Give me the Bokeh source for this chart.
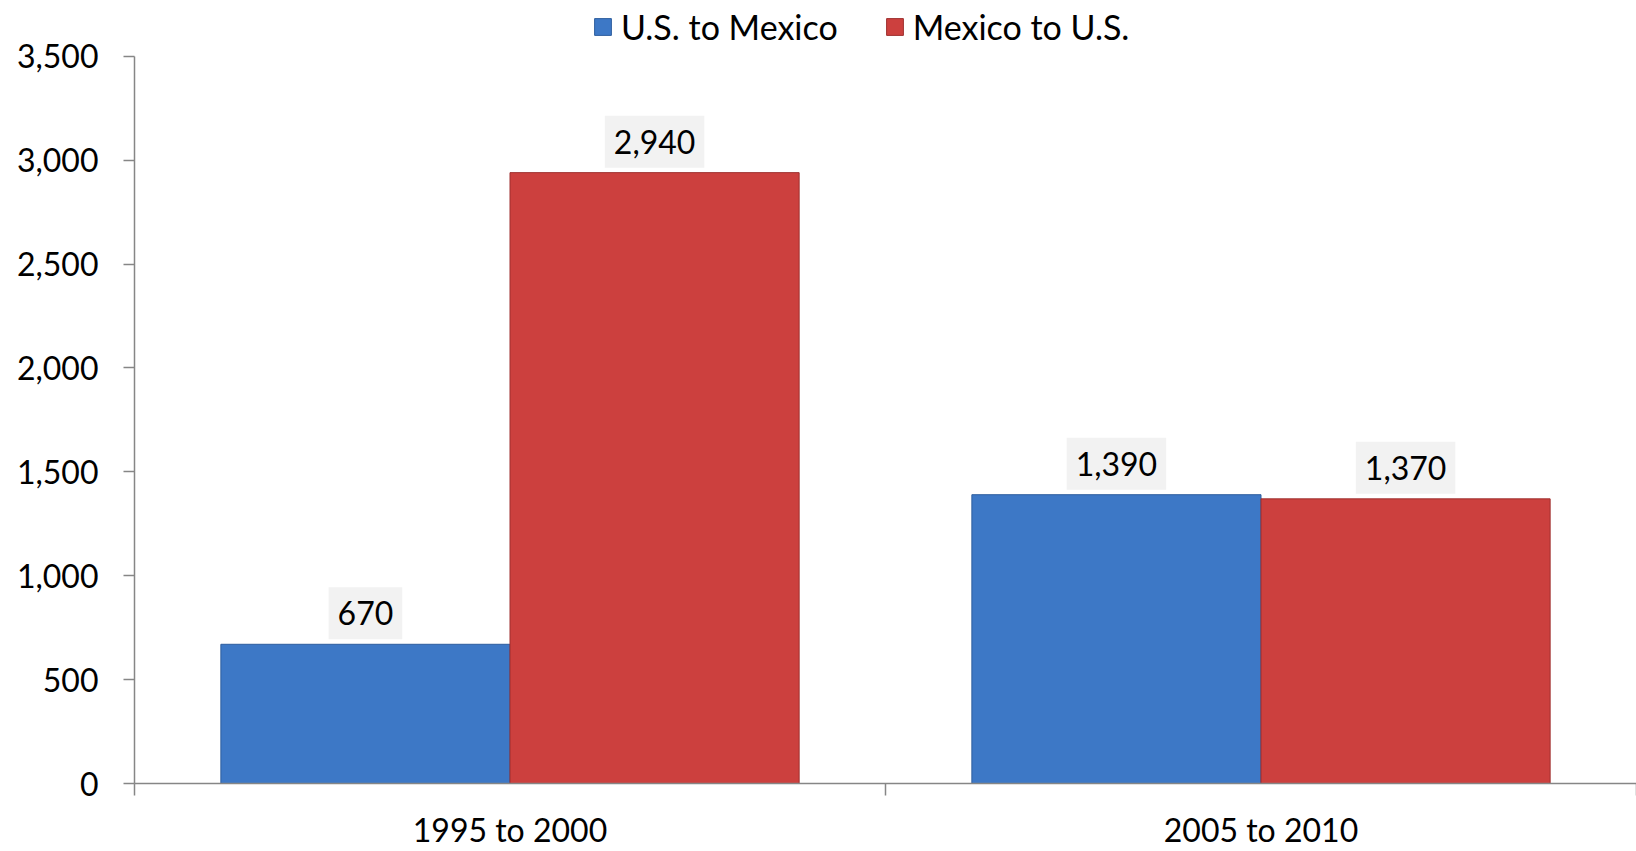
from bokeh.plotting import figure
from bokeh.models import (ColumnDataSource, Range1d, LinearAxis, FixedTicker, SingleIntervalTicker,
                          NumeralTickFormatter, Legend, LegendItem, LabelSet)
from bokeh.core.properties import value
from bokeh.transform import dodge
from bokeh.embed import file_html
from bokeh.resources import INLINE

categories = ["1995 to 2000", "2005 to 2010"]
series_names = ["U.S. to Mexico", "Mexico to U.S."]
us_to_mexico = [670, 1390]
mexico_to_us = [2940, 1370]
value_labels_us = ["670", "1,390"]
value_labels_mx = ["2,940", "1,370"]
y_max = 3500

FONT = "Lato"
blue = "#3D78C6"
red = "#CC403E"

xpos = [i + 0.5 for i in range(len(categories))]
src = ColumnDataSource(dict(x=xpos, us=us_to_mexico, mx=mexico_to_us,
                            lus=value_labels_us, lmx=value_labels_mx))

W, H = 1636, 851
MB_L, MB_R, MB_T, MB_B = 134, 0, 0, 65
TOP_GAP = 56  # space above the value axis for the legend
frame_h = H - MB_T - MB_B
y_end = y_max * frame_h / (frame_h - TOP_GAP)

p = figure(width=W, height=H, output_backend="svg", toolbar_location=None,
           x_range=Range1d(0, len(categories)), y_range=Range1d(0, y_end),
           x_axis_type=None, y_axis_type=None,
           min_border_left=MB_L, min_border_right=MB_R, min_border_top=MB_T, min_border_bottom=MB_B)
p.outline_line_color = None
p.xgrid.visible = False
p.ygrid.visible = False
p.background_fill_color = "white"
p.border_fill_color = "white"

bw = 0.385
r_us = p.vbar(x=dodge("x", -bw / 2, range=p.x_range), top="us", width=bw, source=src,
              fill_color=blue, line_color="#2E5E9E", line_width=1)
r_mx = p.vbar(x=dodge("x", bw / 2, range=p.x_range), top="mx", width=bw, source=src,
              fill_color=red, line_color="#9E2F2E", line_width=1)

# y axis
yaxis = LinearAxis(ticker=SingleIntervalTicker(interval=500, num_minor_ticks=0),
                   formatter=NumeralTickFormatter(format="0,0"), bounds=(0, y_max))
yaxis.axis_line_color = "#868686"
yaxis.axis_line_width = 1.5
yaxis.major_tick_line_color = "#868686"
yaxis.major_tick_line_width = 1.5
yaxis.major_tick_in = 0
yaxis.major_tick_out = 11
yaxis.minor_tick_line_color = None
yaxis.major_label_text_font = FONT
yaxis.major_label_text_font_size = "32px"
yaxis.major_label_text_color = "black"
yaxis.major_label_standoff = 25
p.add_layout(yaxis, "left")

# x axis
xaxis = LinearAxis(ticker=FixedTicker(ticks=xpos, minor_ticks=list(range(len(categories) + 1))))
xaxis.major_label_overrides = {x: c for x, c in zip(xpos, categories)}
xaxis.axis_line_color = "#868686"
xaxis.axis_line_width = 1.5
xaxis.major_tick_line_color = None
xaxis.minor_tick_line_color = "#868686"
xaxis.minor_tick_line_width = 1.5
xaxis.minor_tick_in = 0
xaxis.minor_tick_out = 12
xaxis.major_label_text_font = FONT
xaxis.major_label_text_font_size = "32px"
xaxis.major_label_text_color = "black"
xaxis.major_label_standoff = 14
p.add_layout(xaxis, "below")

# data labels with light grey boxes
def make_labels(xoff, field, tfield):
    xs = dodge("x", xoff, range=p.x_range)
    try:
        p.text(x=xs, y=field, text=tfield, source=src,
               text_align="center", text_baseline="middle", y_offset=-31,
               text_font=value(FONT), text_font_size="32px", text_color="black",
               background_fill_color="#F2F2F2", padding=[9, 14])
    except Exception:
        p.add_layout(LabelSet(x=xs, y=field, text=tfield, source=src,
                              text_align="center", text_baseline="middle", y_offset=31,
                              text_font=value(FONT), text_font_size=value("32px"),
                              text_color=value("black"), background_fill_color=value("#F2F2F2")))

make_labels(-bw / 2, "us", "lus")
make_labels(bw / 2, "mx", "lmx")

legend = Legend(items=[LegendItem(label=series_names[0], renderers=[r_us]),
                       LegendItem(label=series_names[1], renderers=[r_mx])],
                orientation="horizontal", location=(458, frame_h - 50),
                label_text_font=FONT, label_text_font_size="34px", label_text_color="black",
                glyph_width=21, glyph_height=21, label_standoff=8, spacing=46,
                padding=0, margin=0, border_line_color=None, background_fill_alpha=0)
p.add_layout(legend)

open("out.html", "w").write(file_html(p, INLINE))
